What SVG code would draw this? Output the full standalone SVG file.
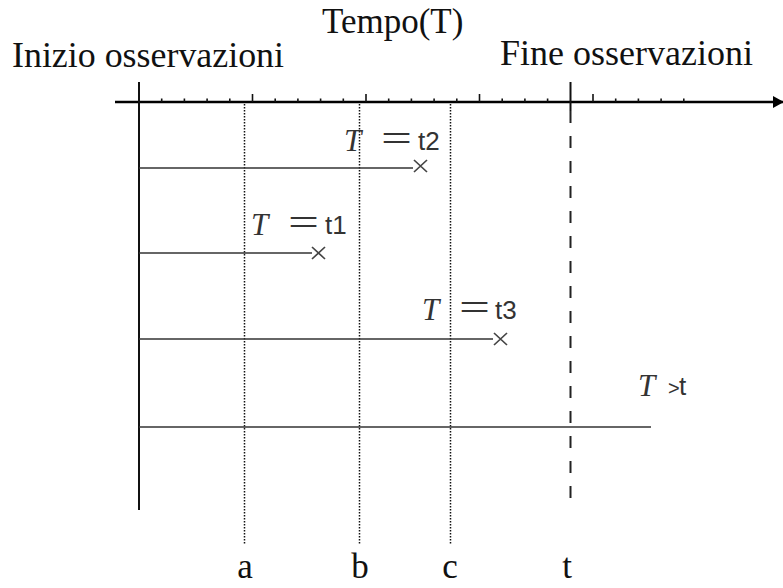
<svg xmlns="http://www.w3.org/2000/svg" width="783" height="588" viewBox="0 0 783 588">
<style>
.lbl{font-family:"Liberation Serif",serif;font-size:35px;fill:#111}
.mi{font-family:"Liberation Serif",serif;font-style:italic;font-size:31px;fill:#333}
.eq{font-family:"Liberation Serif",serif;font-size:40px;fill:#333}
.sn{font-family:"Liberation Sans",sans-serif;font-size:26px;fill:#333}
.gt{font-family:"Liberation Sans",sans-serif;font-size:20px;fill:#333}
.hl{stroke:#333;stroke-width:1.7;fill:none}
.dot{stroke:#111;stroke-width:1.5;stroke-dasharray:1.5 1.5;fill:none}
.tk{stroke:#111;stroke-width:1.6}
.x{stroke:#444;stroke-width:1.7;fill:none}
</style>
<defs>
<marker id="ah" markerWidth="12" markerHeight="12" refX="10" refY="6" orient="auto" markerUnits="userSpaceOnUse">
<path d="M0,0 L11,6 L0,12 Z" fill="#000"/>
</marker>
</defs>
<rect width="783" height="588" fill="#fff"/>
<g id="connectors">
<line id="time-axis" x1="115" y1="102" x2="783" y2="102" stroke="#000" stroke-width="2.5" marker-end="url(#ah)"/>
<line id="start-axis" x1="139" y1="82" x2="139" y2="510" stroke="#111" stroke-width="2"/>
<g id="ticks" class="tk">
<line x1="161.7" y1="98.5" x2="161.7" y2="102"/>
<line x1="184.4" y1="98.5" x2="184.4" y2="102"/>
<line x1="207.1" y1="98.5" x2="207.1" y2="102"/>
<line x1="229.8" y1="98.5" x2="229.8" y2="102"/>
<line x1="252.5" y1="94" x2="252.5" y2="102"/>
<line x1="275.2" y1="98.5" x2="275.2" y2="102"/>
<line x1="297.9" y1="98.5" x2="297.9" y2="102"/>
<line x1="320.6" y1="98.5" x2="320.6" y2="102"/>
<line x1="343.3" y1="98.5" x2="343.3" y2="102"/>
<line x1="366" y1="94" x2="366" y2="102"/>
<line x1="388.7" y1="98.5" x2="388.7" y2="102"/>
<line x1="411.4" y1="98.5" x2="411.4" y2="102"/>
<line x1="434.1" y1="98.5" x2="434.1" y2="102"/>
<line x1="456.8" y1="98.5" x2="456.8" y2="102"/>
<line x1="479.5" y1="94" x2="479.5" y2="102"/>
<line x1="502.2" y1="98.5" x2="502.2" y2="102"/>
<line x1="524.9" y1="98.5" x2="524.9" y2="102"/>
<line x1="547.6" y1="98.5" x2="547.6" y2="102"/>
<line x1="593" y1="94" x2="593" y2="102"/>
<line x1="615.7" y1="98.5" x2="615.7" y2="102"/>
<line x1="638.4" y1="98.5" x2="638.4" y2="102"/>
<line x1="661.1" y1="98.5" x2="661.1" y2="102"/>
<line x1="683.8" y1="98.5" x2="683.8" y2="102"/>
</g>
<line id="end-mark" x1="570.5" y1="82" x2="570.5" y2="111" stroke="#111" stroke-width="2"/>
<line id="end-dashed" x1="570.5" y1="111" x2="570.5" y2="504" stroke="#222" stroke-width="2" stroke-dasharray="12 13"/>
<line class="dot" x1="244.5" y1="104" x2="244.5" y2="545"/>
<line class="dot" x1="359.5" y1="104" x2="359.5" y2="545"/>
<line class="dot" x1="450.5" y1="104" x2="450.5" y2="545"/>
<line class="hl" x1="139" y1="168" x2="413" y2="168"/>
<line class="hl" x1="139" y1="253" x2="312" y2="253"/>
<line class="hl" x1="139" y1="339" x2="493" y2="339"/>
<line class="hl" x1="139" y1="427" x2="651" y2="427"/>
</g>
<g id="marks">
<path class="x" d="M414,160 L427,172 M427,160 L414,172"/>
<path class="x" d="M312,247 L325,259 M325,247 L312,259"/>
<path class="x" d="M494,333 L507,345 M507,333 L494,345"/>
</g>
<g id="labels">
<text class="lbl" x="322" y="33">Tempo(T)</text>
<text class="lbl" x="12" y="67" textLength="272" lengthAdjust="spacingAndGlyphs">Inizio osservazioni</text>
<text class="lbl" x="500" y="65" textLength="253" lengthAdjust="spacingAndGlyphs">Fine osservazioni</text>
<text class="lbl" x="245" y="578" text-anchor="middle">a</text>
<text class="lbl" x="360" y="578" text-anchor="middle">b</text>
<text class="lbl" x="450" y="578" text-anchor="middle">c</text>
<text class="lbl" x="567" y="578" text-anchor="middle">t</text>
</g>
<g id="label-t2"><text class="mi" x="344" y="151">T</text><text class="eq" x="381" y="152" textLength="31" lengthAdjust="spacingAndGlyphs">=</text><text class="sn" x="418" y="150">t2</text></g>
<g id="label-t1"><text class="mi" x="251" y="235">T</text><text class="eq" x="288" y="236" textLength="31" lengthAdjust="spacingAndGlyphs">=</text><text class="sn" x="325" y="234">t1</text></g>
<g id="label-t3"><text class="mi" x="422" y="320">T</text><text class="eq" x="459" y="321" textLength="31" lengthAdjust="spacingAndGlyphs">=</text><text class="sn" x="495" y="319">t3</text></g>
<g id="label-tgt"><text class="mi" x="638" y="396">T</text><text class="gt" x="668" y="395">&gt;</text><text class="sn" x="679" y="395">t</text></g>
</svg>
